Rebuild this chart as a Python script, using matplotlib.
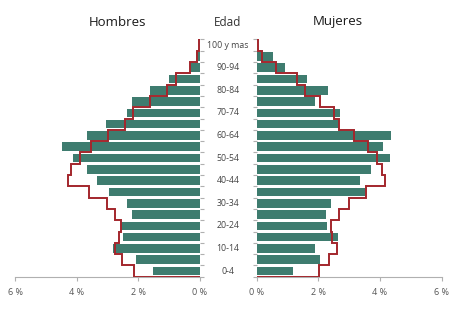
import matplotlib
matplotlib.use("Agg")
import matplotlib.pyplot as plt
import matplotlib.transforms as mtransforms
import numpy as np

plt.rcParams['font.family'] = ['Open Sans', 'DejaVu Sans']

# grupos de edad, de 0-4 a 100 y mas
edades = ['0-4', '5-9', '10-14', '15-19', '20-24', '25-29', '30-34', '35-39',
          '40-44', '45-49', '50-54', '55-59', '60-64', '65-69', '70-74',
          '75-79', '80-84', '85-89', '90-94', '95-99', '100 y mas']

# porcentajes (barras)
hombres = [1.52, 2.06, 2.81, 2.51, 2.57, 2.19, 2.36, 2.94, 3.35, 3.68, 4.11,
           4.49, 3.68, 3.06, 2.36, 2.21, 1.62, 1.00, 0.32, 0.14, 0.0]
mujeres = [1.19, 2.06, 1.89, 2.65, 2.29, 2.24, 2.41, 3.52, 3.35, 3.71, 4.32,
           4.09, 4.35, 2.67, 2.70, 1.89, 2.31, 1.63, 0.92, 0.54, 0.0]

# porcentajes de referencia (linea roja)
hombres_ref = [2.14, 2.52, 2.76, 2.62, 2.57, 2.76, 3.01, 3.59, 4.28, 4.17, 3.88,
               3.52, 2.98, 2.44, 2.18, 1.63, 1.08, 0.77, 0.31, 0.10, 0.03]
mujeres_ref = [2.02, 2.36, 2.60, 2.44, 2.41, 2.68, 2.98, 3.55, 4.17, 4.06, 3.90,
               3.60, 3.17, 2.68, 2.51, 2.06, 1.57, 1.31, 0.62, 0.16, 0.03]

ticks_x = [0, 2, 4, 6]

color_barra = '#3e7c6f'
color_linea = '#a3262c'
color_eje = '#b0b0b0'

fig = plt.figure(figsize=(4.5, 3.13), dpi=100)
axL = fig.add_axes([15/450, 36.3/313, 185/450, 237.3/313])
axR = fig.add_axes([256.7/450, 36.3/313, 185/450, 237.3/313])

y = np.arange(len(edades))
bordes = np.arange(len(edades) + 1) - 0.5


def contorno(vals):
    # escalera: cada grupo ocupa su fila, cerrada a 0 arriba y abajo
    xs = np.concatenate([[0], np.repeat(vals, 2), [0]])
    ys = np.concatenate([[bordes[0]], np.repeat(bordes, 2)[1:-1], [bordes[-1]]])
    return xs, ys


for ax, vals, ref in [(axL, hombres, hombres_ref), (axR, mujeres, mujeres_ref)]:
    ax.barh(y, vals, height=0.76, color=color_barra, zorder=2)
    xs, ys = contorno(ref)
    ax.plot(xs, ys, color=color_linea, lw=1.4, zorder=3, solid_joinstyle='miter')
    ax.set_xlim(0, 6)
    ax.set_ylim(-0.5, len(edades) - 0.5)
    for s in ['top', 'left', 'right']:
        ax.spines[s].set_visible(False)
    ax.spines['bottom'].set_color(color_eje)
    ax.spines['bottom'].set_linewidth(0.8)
    ax.set_xticks(ticks_x)
    ax.set_xticklabels([f'{t} %' for t in ticks_x], fontsize=6.5, color='#555555')
    ax.tick_params(axis='x', length=3, color=color_eje, pad=5)
    ax.set_yticks(bordes)
    ax.set_yticklabels([])
    ax.tick_params(axis='y', length=3, color=color_eje, width=0.8)
    ax.set_facecolor('none')

axL.invert_xaxis()
axL.yaxis.tick_right()

trans = mtransforms.blended_transform_factory(fig.transFigure, axL.transData)
for i, e in enumerate(edades):
    if i % 2 == 0:
        fig.text(228/450, i, e, transform=trans, ha='center', va='center',
                 fontsize=6.3, color='#444444')

fig.text(117/450, 1 - 22/313, 'Hombres', ha='center', va='center', fontsize=9.5, color='#1a1a1a')
fig.text(338/450, 1 - 22/313, 'Mujeres', ha='center', va='center', fontsize=9.5, color='#1a1a1a')
fig.text(228/450, 1 - 22/313, 'Edad', ha='center', va='center', fontsize=8.5, color='#333333')

fig.savefig('out.png', dpi=100)
